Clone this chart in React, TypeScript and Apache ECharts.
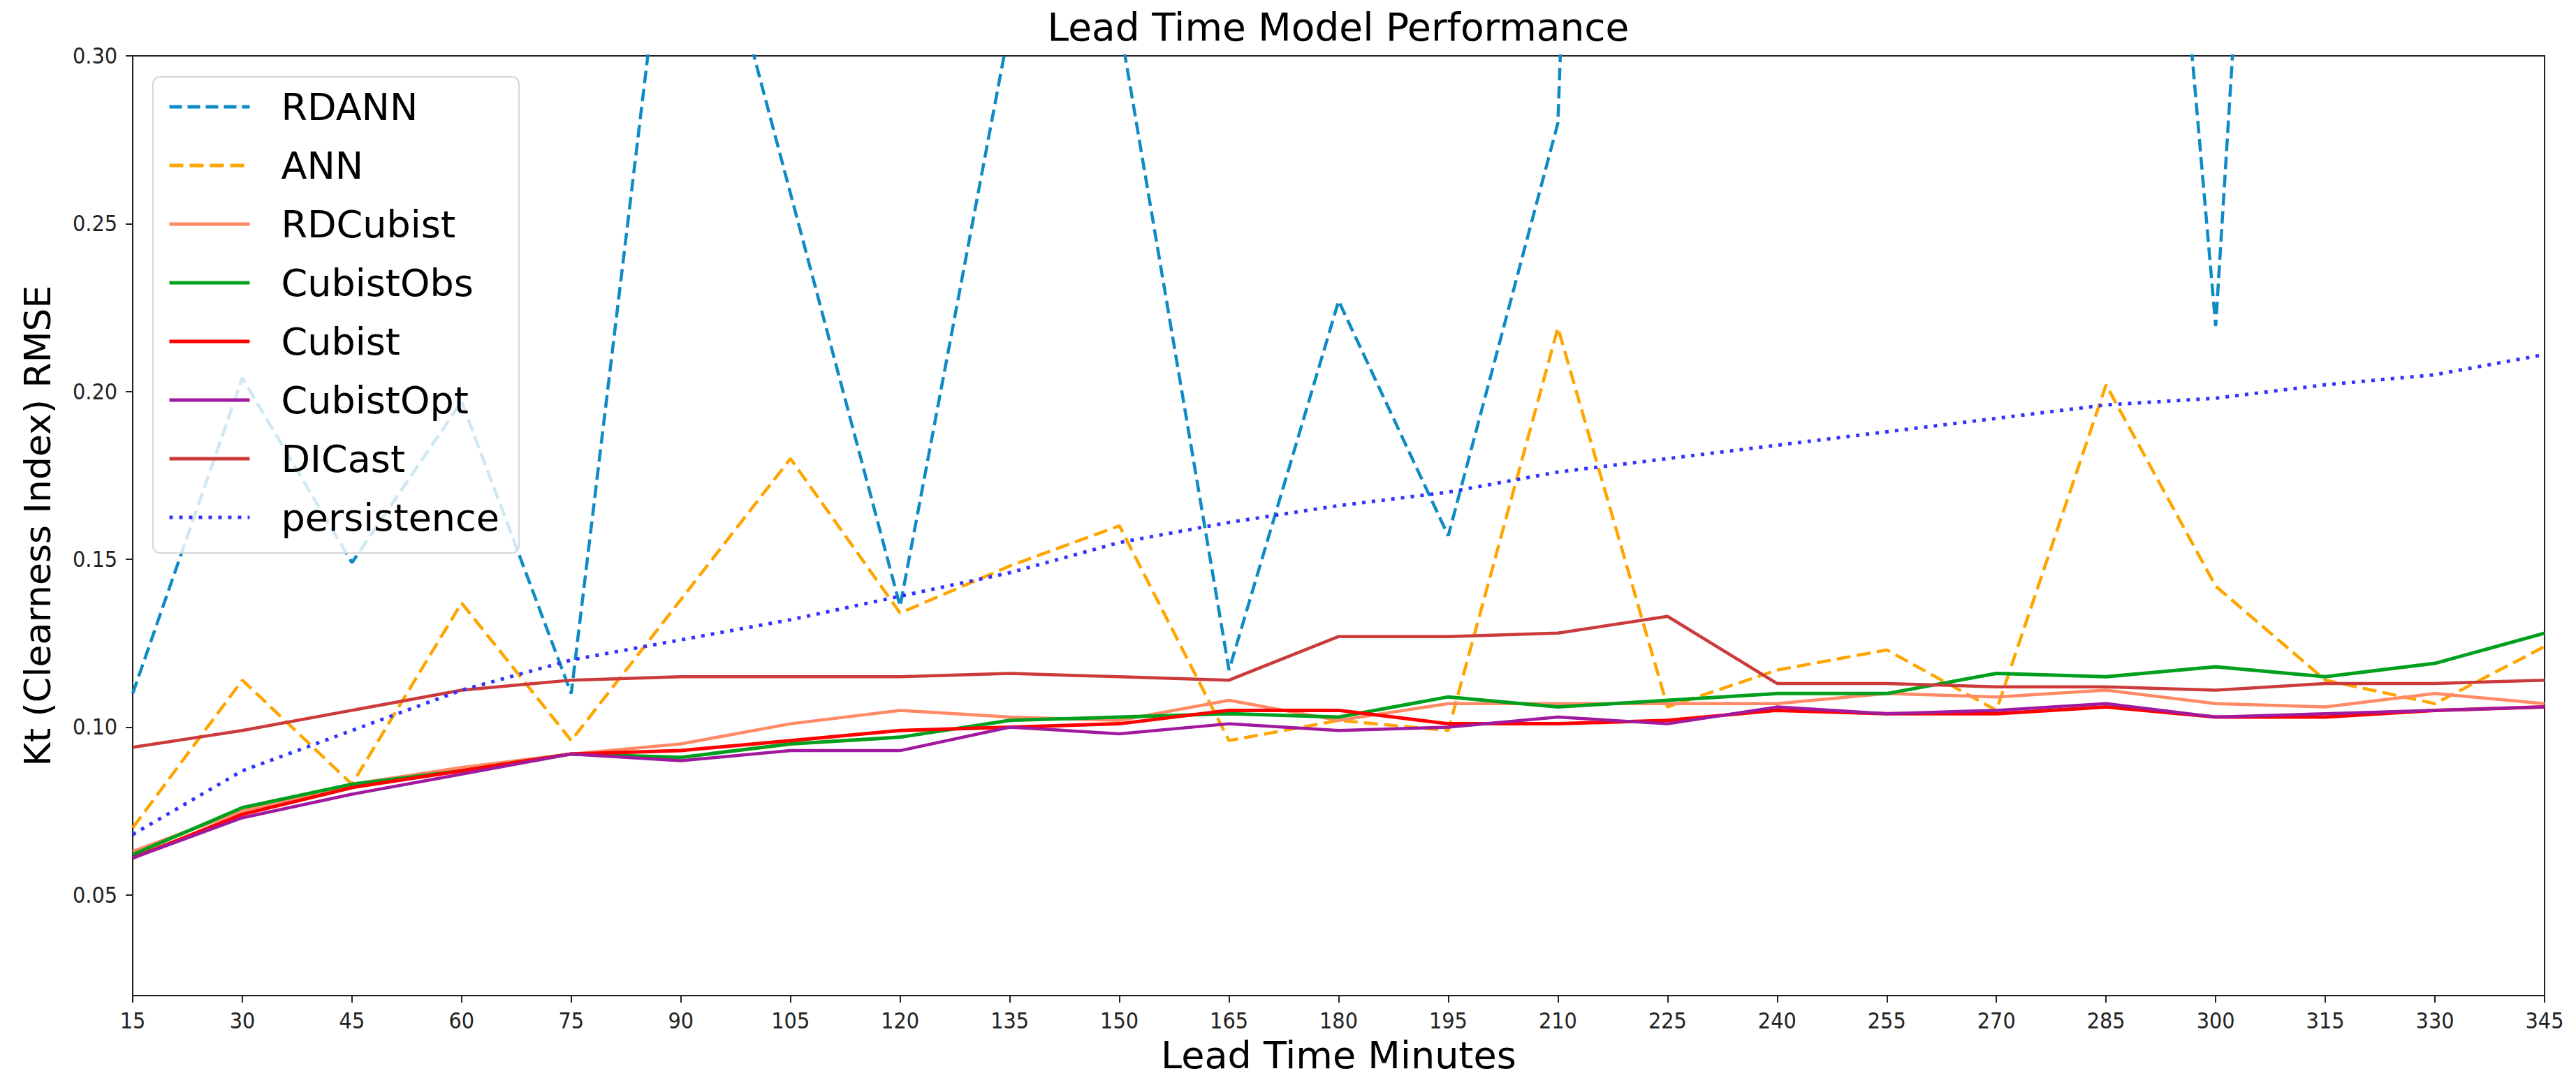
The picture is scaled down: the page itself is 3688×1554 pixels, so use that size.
import React, { useEffect, useRef } from "react";
import * as echarts from "echarts";

const leadTimes = ["15","30","45","60","75","90","105","120","135","150","165","180","195","210","225","240","255","270","285","300","315","330","345"];

const rdann = [0.110, 0.204, 0.149, 0.197, 0.110, 0.382, 0.259, 0.136, 0.309, 0.310, 0.117, 0.227, 0.157, 0.280, 1.20, 0.95, 0.85, 0.75, 0.594, 0.2195, 0.745, 0.65, 0.55];
const ann = [0.070, 0.114, 0.083, 0.137, 0.096, 0.138, 0.180, 0.134, 0.148, 0.160, 0.096, 0.102, 0.099, 0.219, 0.106, 0.117, 0.123, 0.105, 0.202, 0.142, 0.114, 0.107, 0.124];
const rdCubist = [0.063, 0.075, 0.083, 0.088, 0.092, 0.095, 0.101, 0.105, 0.103, 0.102, 0.108, 0.102, 0.107, 0.107, 0.107, 0.107, 0.110, 0.109, 0.111, 0.107, 0.106, 0.110, 0.107];
const cubistObs = [0.062, 0.076, 0.083, 0.087, 0.092, 0.091, 0.095, 0.097, 0.102, 0.103, 0.104, 0.103, 0.109, 0.106, 0.108, 0.110, 0.110, 0.116, 0.115, 0.118, 0.115, 0.119, 0.128];
const cubist = [0.061, 0.074, 0.082, 0.087, 0.092, 0.093, 0.096, 0.099, 0.100, 0.101, 0.105, 0.105, 0.101, 0.101, 0.102, 0.105, 0.104, 0.104, 0.106, 0.103, 0.103, 0.105, 0.106];
const cubistOpt = [0.061, 0.073, 0.080, 0.086, 0.092, 0.090, 0.093, 0.093, 0.100, 0.098, 0.101, 0.099, 0.100, 0.103, 0.101, 0.106, 0.104, 0.105, 0.107, 0.103, 0.104, 0.105, 0.106];
const diCast = [0.094, 0.099, 0.105, 0.111, 0.114, 0.115, 0.115, 0.115, 0.116, 0.115, 0.114, 0.127, 0.127, 0.128, 0.133, 0.113, 0.113, 0.112, 0.112, 0.111, 0.113, 0.113, 0.114];
const persistence = [0.068, 0.087, 0.099, 0.111, 0.120, 0.126, 0.132, 0.139, 0.146, 0.155, 0.161, 0.166, 0.170, 0.176, 0.180, 0.184, 0.188, 0.192, 0.196, 0.198, 0.202, 0.205, 0.211];

const seriesDefs = [
  { name: "RDANN", data: rdann, color: "#0e8bc5", type: [18, 8], width: 4.5 },
  { name: "ANN", data: ann, color: "#ffa500", type: [20, 9], width: 4.5 },
  { name: "RDCubist", data: rdCubist, color: "#ff8a65", type: "solid", width: 4.5 },
  { name: "CubistObs", data: cubistObs, color: "#00a01e", type: "solid", width: 5 },
  { name: "Cubist", data: cubist, color: "#ff0000", type: "solid", width: 5 },
  { name: "CubistOpt", data: cubistOpt, color: "#a0199f", type: "solid", width: 4.5 },
  { name: "DICast", data: diCast, color: "#cc3b3b", type: "solid", width: 4.5 },
  { name: "persistence", data: persistence, color: "#3333ff", type: [5, 9], width: 5 },
];

const FONT = "'DejaVu Sans', sans-serif";
const TICK_FONT = "'DejaVu Sans Condensed', 'DejaVu Sans', sans-serif";

export default function App() {
  const ref = useRef<HTMLDivElement>(null);
  useEffect(() => {
    if (!ref.current) return;
    const chart = echarts.init(ref.current, null, { renderer: "svg" });
    chart.setOption({
      animation: false,
      backgroundColor: "#ffffff",
      title: {
        text: "Lead Time Model Performance",
        left: 1916,
        top: 11,
        textAlign: "center",
        padding: 0,
        textStyle: { fontFamily: FONT, fontSize: 55, fontWeight: "normal", color: "#000" },
      },
      legend: {
        orient: "vertical",
        left: 219,
        top: 110,
        itemWidth: 115,
        itemHeight: 14,
        itemGap: 30,
        padding: [16, 28, 24, 21],
        backgroundColor: "rgba(255,255,255,0.8)",
        borderColor: "#d6d6d6",
        borderWidth: 2,
        borderRadius: 10,
        itemStyle: { opacity: 0 },
        lineStyle: { width: 5 },
        textStyle: { fontFamily: FONT, fontSize: 54, lineHeight: 54, color: "#000", padding: [0, 0, 0, 40] },
        data: seriesDefs.map((s) => s.name),
      },
      grid: {
        left: 190,
        right: 45,
        top: 80,
        bottom: 128,
        show: true,
        borderColor: "#222",
        borderWidth: 2,
        backgroundColor: "transparent",
      },
      xAxis: {
        type: "category",
        data: leadTimes,
        boundaryGap: false,
        name: "Lead Time Minutes",
        nameLocation: "middle",
        nameGap: 58,
        nameTextStyle: { fontFamily: FONT, fontSize: 54, color: "#000" },
        axisLine: { lineStyle: { color: "#222", width: 2 } },
        axisTick: { length: 10, lineStyle: { color: "#222", width: 2 }, alignWithLabel: true },
        axisLabel: { fontFamily: TICK_FONT, fontSize: 32, color: "#222", margin: 20, interval: 0 },
        splitLine: { show: false },
      },
      yAxis: {
        type: "value",
        min: 0.02,
        max: 0.3,
        splitNumber: 5,
        name: "Kt (Clearness Index) RMSE",
        nameLocation: "middle",
        nameGap: 110,
        nameTextStyle: { fontFamily: FONT, fontSize: 52, color: "#000" },
        axisLine: { show: true, lineStyle: { color: "#222", width: 2 } },
        axisTick: { show: true, length: 10, lineStyle: { color: "#222", width: 2 } },
        axisLabel: {
          fontFamily: TICK_FONT,
          fontSize: 32,
          color: "#222",
          margin: 22,
          showMinLabel: false,
          formatter: (v: number) => v.toFixed(2),
        },
        splitLine: { show: false },
      },
      series: seriesDefs.map((s) => ({
        name: s.name,
        type: "line",
        data: s.data,
        symbol: "none",
        clip: true,
        color: s.color,
        lineStyle: { color: s.color, width: s.width, type: s.type },
      })),
    });
    return () => chart.dispose();
  }, []);
  return (
    <div
      ref={ref}
      style={{ position: "absolute", left: 0, top: 0, width: 3688, height: 1554 }}
    />
  );
}
